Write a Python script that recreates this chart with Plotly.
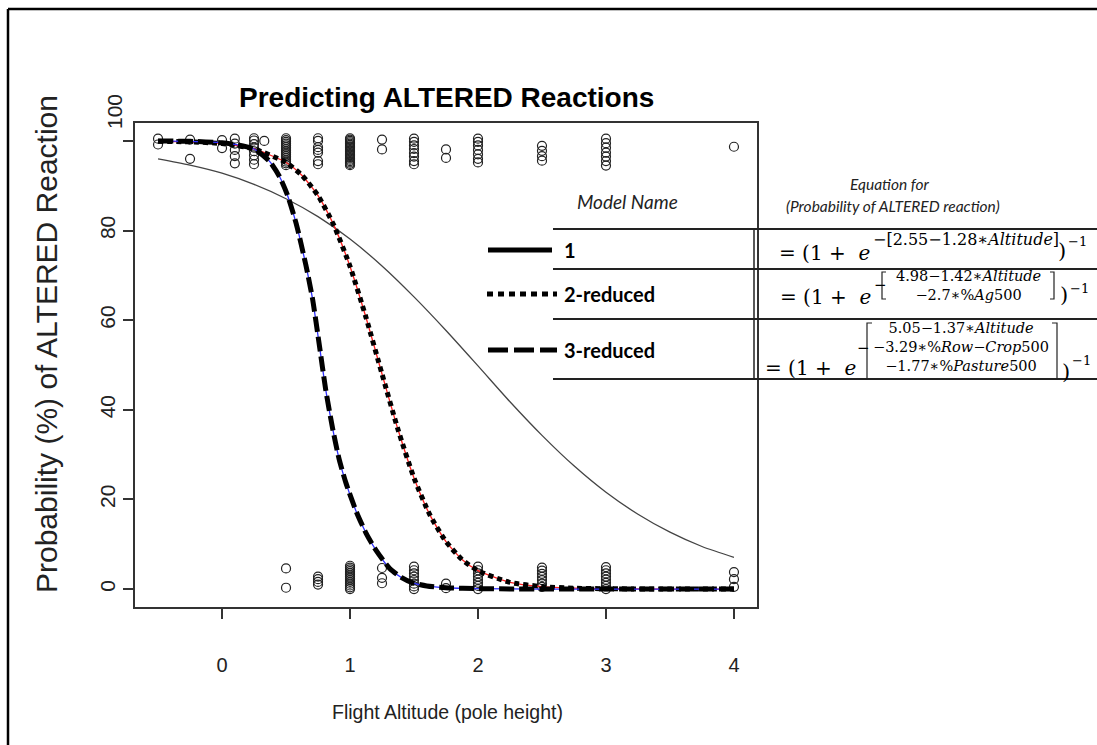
import plotly.graph_objects as go

# ---------------- data ----------------
# observed reactions (jittered), near 100 % (altered)
alt_top = [-0.5, -0.5, -0.25, -0.25, 0, 0,
           0.1, 0.1, 0.1, 0.1, 0.1,
           0.25, 0.25, 0.25, 0.25, 0.25, 0.25, 0.25, 0.25,
           0.33,
           0.5, 0.5, 0.5, 0.5, 0.5, 0.5, 0.5, 0.5, 0.5, 0.5, 0.5, 0.5, 0.5, 0.5, 0.5, 0.5,
           0.75, 0.75, 0.75, 0.75, 0.75, 0.75, 0.75,
           1, 1, 1, 1, 1, 1, 1, 1, 1, 1, 1, 1, 1, 1, 1, 1, 1, 1, 1, 1, 1,
           1.25, 1.25,
           1.5, 1.5, 1.5, 1.5, 1.5, 1.5, 1.5, 1.5,
           1.75, 1.75,
           2, 2, 2, 2, 2, 2, 2,
           2.5, 2.5, 2.5, 2.5,
           3, 3, 3, 3, 3, 3, 3,
           4]
pct_top = [99.2, 100.5, 96.0, 100.3, 98.4, 100.2,
           95.0, 96.6, 98.0, 99.4, 100.5,
           94.8, 95.8, 96.8, 97.7, 98.5, 99.3, 100.1, 100.6,
           100.0,
           94.6, 95.0, 95.4, 95.8, 96.2, 96.6, 97.0, 97.4, 97.8, 98.2, 98.6, 99.0, 99.4, 99.8, 100.2, 100.6,
           94.8, 95.5, 97.4, 98.0, 98.6, 100.0, 100.6,
           94.6, 94.9, 95.2, 95.5, 95.8, 96.1, 96.4, 96.7, 97.0, 97.3, 97.6, 97.9, 98.2, 98.5, 98.8, 99.1, 99.4, 99.7, 100.0, 100.3, 100.6,
           98.1, 100.3,
           94.8, 95.5, 96.5, 97.3, 98.2, 99.0, 99.8, 100.5,
           96.2, 98.1,
           95.2, 96.0, 97.0, 98.0, 99.0, 99.8, 100.5,
           95.6, 96.6, 97.8, 98.9,
           94.5, 95.5, 96.5, 97.4, 98.5, 99.5, 100.5,
           98.7]

# observed reactions (jittered), near 0 % (not altered)
alt_bot = [0.5, 0.5,
           0.75, 0.75, 0.75, 0.75,
           1, 1, 1, 1, 1, 1, 1, 1, 1, 1, 1, 1, 1, 1,
           1.25, 1.25, 1.25,
           1.5, 1.5, 1.5, 1.5, 1.5, 1.5, 1.5, 1.5,
           1.75, 1.75,
           2, 2, 2, 2, 2, 2, 2, 2,
           2.5, 2.5, 2.5, 2.5, 2.5, 2.5, 2.5,
           3, 3, 3, 3, 3, 3, 3, 3,
           4, 4, 4]
pct_bot = [0.3, 4.6,
           1.0, 1.6, 2.2, 2.8,
           0.0, 0.4, 0.8, 1.2, 1.6, 2.0, 2.4, 2.8, 3.2, 3.6, 4.0, 4.4, 4.8, 5.2,
           1.3, 2.5, 4.7,
           0.0, 0.6, 1.2, 2.0, 2.8, 3.5, 4.2, 5.0,
           0.2, 1.2,
           0.0, 0.7, 1.4, 2.1, 2.8, 3.5, 4.2, 5.0,
           0.5, 1.2, 2.0, 2.7, 3.4, 4.1, 4.8,
           0.0, 0.7, 1.4, 2.1, 2.8, 3.5, 4.2, 4.9,
           0.5, 2.2, 3.8]

# fitted curves
m1_alt = [-0.5, -0.25, 0, 0.25, 0.5, 0.75, 1, 1.25, 1.5, 1.75, 2, 2.25, 2.5, 2.75, 3, 3.25, 3.5, 3.75, 4]
m1_pct = [96.0, 94.6, 92.8, 90.3, 87.1, 83.1, 78.1, 72.1, 65.2, 57.7, 49.8, 41.8, 34.3, 27.5, 21.6, 16.7, 12.7, 9.5, 7.1]

m2_alt = [-0.5, -0.25, 0, 0.25, 0.5, 0.625, 0.75, 0.875, 1.0, 1.125, 1.25, 1.375, 1.5, 1.625, 1.75,
          1.875, 2.0, 2.25, 2.5, 2.75, 3.0, 3.5, 4.0]
m2_pct = [99.9, 99.8, 99.4, 98.2, 95.2, 92.3, 87.8, 81.1, 72.0, 60.6, 48.0, 35.6, 24.8, 16.5, 10.6,
          6.6, 4.1, 1.5, 0.55, 0.2, 0.07, 0.01, 0.0]

m3_alt = [-0.5, -0.25, 0, 0.125, 0.25, 0.37, 0.45, 0.51, 0.58, 0.655, 0.707, 0.76, 0.81, 0.863, 0.915,
          0.968, 1.05, 1.125, 1.2, 1.31, 1.4, 1.49, 1.6, 1.75, 2.0, 2.5, 3.0, 3.5, 4.0]
m3_pct = [100.0, 99.9, 99.6, 99.1, 98.2, 95.5, 92.0, 88.0, 81.5, 72.3, 64.8, 54.5, 44.5, 36.0, 29.0,
          23.7, 17.2, 12.5, 8.8, 4.6, 2.6, 1.4, 0.7, 0.3, 0.1, 0.0, 0.0, 0.0, 0.0]

x_ticks = [0, 1, 2, 3, 4]
y_ticks = [0, 20, 40, 60, 80, 100]

model_names = ["1", "2-reduced", "3-reduced"]

# ---------------- layout helpers (pixel -> paper) ----------------
W, H = 1097, 745
L, R, T, B = 135, 757, 123, 607


def px(x):
    return (x - L) / (R - L)


def py(y):
    return (B - y) / (B - T)


SANS = "Liberation Sans, Arial, sans-serif"
SERIF = "DejaVu Serif, serif"
CAL = "Lato, Carlito, sans-serif"

fig = go.Figure()

marker_style = dict(symbol="circle-open", size=9, color="#222", line=dict(width=1.2, color="#222"))
# observed points
fig.add_trace(go.Scatter(x=alt_top, y=pct_top, mode="markers", marker=marker_style,
                         hoverinfo="skip", showlegend=False))
fig.add_trace(go.Scatter(x=alt_bot, y=pct_bot, mode="markers", marker=marker_style,
                         hoverinfo="skip", showlegend=False))

# model 1: thin grey
fig.add_trace(go.Scatter(x=m1_alt, y=m1_pct, mode="lines",
                         line=dict(color="#444", width=1.3, shape="spline", smoothing=0.8),
                         showlegend=False))
# model 2: red thin + black dotted
fig.add_trace(go.Scatter(x=m2_alt, y=m2_pct, mode="lines",
                         line=dict(color="#ff2020", width=1.3, shape="spline", smoothing=0.6),
                         showlegend=False))
fig.add_trace(go.Scatter(x=m2_alt, y=m2_pct, mode="lines",
                         line=dict(color="black", width=5, dash="5px,4px", shape="spline", smoothing=0.6),
                         showlegend=False))
# model 3: blue thin + black dashed
fig.add_trace(go.Scatter(x=m3_alt, y=m3_pct, mode="lines",
                         line=dict(color="#3030ff", width=1.3, shape="spline", smoothing=0.6),
                         showlegend=False))
fig.add_trace(go.Scatter(x=m3_alt, y=m3_pct, mode="lines",
                         line=dict(color="black", width=5, dash="15px,5px", shape="spline", smoothing=0.6),
                         showlegend=False))

annotations = []


def ann(text, x, y, size, family, xanchor="left", yanchor="middle", angle=0, color="black", align="left"):
    annotations.append(dict(text=text, x=px(x), y=py(y), xref="paper", yref="paper",
                            xanchor=xanchor, yanchor=yanchor, showarrow=False, textangle=angle,
                            align=align, font=dict(size=size, family=family, color=color)))


# titles
ann("<b>Predicting ALTERED Reactions</b>", 446, 97, 28, SANS, xanchor="center")
ann("Flight Altitude (pole height)", 447, 712, 19.5, SANS, xanchor="center", color="#222")
ann("Probability (%) of ALTERED Reaction", 46, 344, 30, SANS, xanchor="center", angle=-90, color="#222")
# top y tick label sits above the frame in the reference
ann(str(y_ticks[-1]), 114, 112, 21, SANS, xanchor="center", angle=-90, color="#222")

# table headers
ann("<i>Model Name</i>", 627, 202, 19, CAL, xanchor="center", color="#222")
ann("<i>Equation for</i>", 890, 184, 15.5, CAL, xanchor="center", color="#222")
ann("<i>(Probability of ALTERED reaction)</i>", 893, 206, 15.5, CAL, xanchor="center", color="#222")

# model names
for name, yy in zip(model_names, [250, 294, 350]):
    ann("<b>" + name + "</b>", 562, yy, 20, CAL, color="black")

BASE = "=\u00a0(1\u00a0+\u00a0\u00a0<i>e</i>"
# row 1
ann(BASE, 777, 253, 20, SERIF)
ann("\u2212[2.55\u22121.28\u2217<i>Altitude</i>]", 871, 239, 16, SERIF)
ann(")", 1056, 251, 21, SERIF)
ann("\u22121", 1066, 241, 13, SERIF)
# row 2
ann(BASE, 778, 297, 20, SERIF)
ann("\u2212", 872, 285, 15, SERIF)
ann("4.98\u22121.42\u2217<i>Altitude</i><br>\u22122.7\u2217%<i>Ag</i>500", 968, 285, 14.5, SERIF,
    xanchor="center", align="center")
ann(")", 1058, 295, 21, SERIF)
ann("\u22121", 1068, 288, 13, SERIF)
# row 3
ann(BASE, 763, 368, 20, SERIF)
ann("\u2212", 855, 348, 15, SERIF)
ann("5.05\u22121.37\u2217<i>Altitude</i><br>\u22123.29\u2217%<i>Row</i>\u2212<i>Crop</i>500<br>"
    "\u22121.77\u2217%<i>Pasture</i>500", 961, 347, 14.5, SERIF, xanchor="center", align="center")
ann(")", 1060, 372, 21, SERIF)
ann("\u22121", 1070, 360, 13, SERIF)

shapes = []


def hline(x0, x1, y, width=2, color="#222", dash="solid"):
    shapes.append(dict(type="line", xref="paper", yref="paper", x0=px(x0), x1=px(x1),
                       y0=py(y), y1=py(y), line=dict(color=color, width=width, dash=dash)))


def vline(x, y0, y1, width=2, color="#222"):
    shapes.append(dict(type="line", xref="paper", yref="paper", x0=px(x), x1=px(x),
                       y0=py(y0), y1=py(y1), line=dict(color=color, width=width)))


def bracket(x, y0, y1, side, serif=4):
    d = serif if side == "left" else -serif
    path = "M {a},{b} L {c},{b} L {c},{e} L {a},{e}".format(
        a=px(x + d), b=py(y0), c=px(x), e=py(y1))
    shapes.append(dict(type="path", xref="paper", yref="paper", path=path,
                       line=dict(color="#222", width=1.2)))


# outer frame (top / left edges)
hline(8, W, 9, width=2.5, color="black")
vline(8, 9, H, width=2.5, color="black")

# table lines
for yy in [229, 269, 319, 379]:
    hline(553, W, yy, width=2)
vline(754, 229, 379, width=1.5)

# legend keys
hline(488, 552, 250, width=5, color="black")
hline(487, 557, 294, width=5, color="black", dash="6px,5px")
hline(488, 557, 350, width=5, color="black", dash="20px,6px")

# brackets
bracket(882, 272, 299, "left")
bracket(1054, 272, 299, "right")
bracket(867, 323, 379, "left", serif=5)
bracket(1057, 323, 379, "right", serif=5)

fig.update_layout(
    width=W, height=H,
    margin=dict(l=L, r=W - R, t=T, b=H - B),
    paper_bgcolor="white", plot_bgcolor="white",
    showlegend=False,
    annotations=annotations,
    shapes=shapes,
    xaxis=dict(range=[-0.68, 4.18], tickvals=x_ticks, ticktext=[str(v) for v in x_ticks],
               showgrid=False, zeroline=False, showline=True, mirror=True,
               linecolor="#333", linewidth=1.5, ticks="outside", ticklen=10, tickwidth=1.5,
               tickcolor="#333", ticklabelstandoff=29,
               tickfont=dict(family=SANS, size=20, color="#222")),
    yaxis=dict(range=[-4, 104], tickvals=y_ticks,
               ticktext=[str(v) for v in y_ticks[:-1]] + [""],
               showgrid=False, zeroline=False, showline=True, mirror=True,
               linecolor="#333", linewidth=1.5, ticks="outside", ticklen=10, tickwidth=1.5,
               tickcolor="#333", tickangle=-90, ticklabelstandoff=0,
               tickfont=dict(family=SANS, size=21, color="#222")),
)

fig.write_html("out.html", post_script="document.body.style.margin='0px';",
               config={"displayModeBar": False})
